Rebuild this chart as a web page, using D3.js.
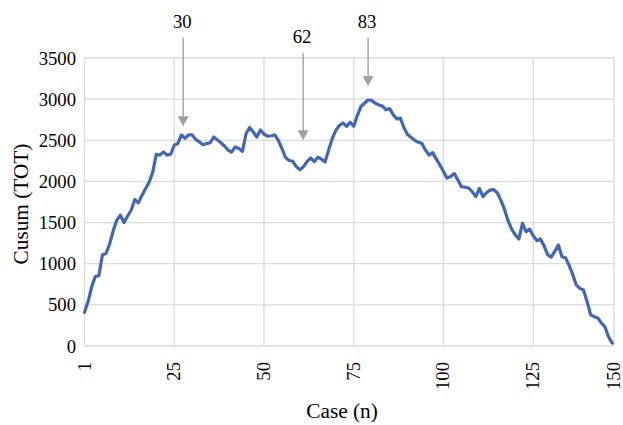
<!DOCTYPE html>
<html><head><meta charset="utf-8">
<script src="https://cdn.jsdelivr.net/npm/d3@7"></script>
<style>html,body{margin:0;padding:0;background:#fff;}svg{display:block;}</style>
</head><body>
<svg id="chart" width="623" height="425"></svg>
<script>
// ---- data ----
const cusumValues = [
  410, 540, 720, 845, 855, 1110, 1125, 1240, 1400, 1530,
  1590, 1500, 1580, 1650, 1780, 1740, 1830, 1910, 1990, 2110,
  2330, 2320, 2360, 2320, 2330, 2440, 2460, 2565, 2525, 2565,
  2565, 2510, 2480, 2445, 2460, 2470, 2540, 2505, 2470, 2430,
  2380, 2355, 2420, 2400, 2365, 2580, 2655, 2600, 2540, 2625,
  2575, 2550, 2555, 2565, 2500, 2400, 2290, 2255, 2245, 2180,
  2140, 2180, 2240, 2285, 2240, 2295, 2270, 2235, 2380, 2520,
  2620, 2680, 2710, 2670, 2720, 2670, 2800, 2910, 2950, 2990,
  2985, 2950, 2930, 2915, 2870, 2885, 2810, 2760, 2770, 2650,
  2570, 2535, 2500, 2475, 2460, 2380, 2320, 2350, 2270, 2200,
  2120, 2040, 2060, 2095, 2020, 1935, 1930, 1920, 1875, 1815,
  1915, 1815, 1865, 1895, 1900, 1860, 1770, 1660, 1520, 1420,
  1350, 1300, 1490, 1390, 1420, 1340, 1280, 1300, 1220, 1110,
  1080, 1150, 1227, 1085, 1073, 980, 870, 740, 700, 680,
  540, 380, 356, 340, 280, 230, 110, 35
];
const caseNumbers = cusumValues.map((_, i) => i + 1);

const xTickValues = [1, 26, 51, 76, 101, 126, 148.5];
const xTickLabels = ["1", "25", "50", "75", "100", "125", "150"];
const yTickValues = [0, 500, 1000, 1500, 2000, 2500, 3000, 3500];

const annotLabels = ["30", "62", "83"];
const annotCase = [28.5, 61.9, 80];
const annotTip = [2670, 2500, 3160];
const annotTop = [3745, 3560, 3745];

// ---- chart ----
const svg = d3.select("#chart");
const mLeft = 84.5, mRight = 614, mTop = 58, mBottom = 346;

const x = d3.scaleLinear().domain([1, 148.5]).range([mLeft, mRight]);
const y = d3.scaleLinear().domain([0, 3500]).range([mBottom, mTop]);

const gridColor = "#d9d9d9";
const font = "'Liberation Serif', 'Times New Roman', serif";

// horizontal gridlines
svg.append("g").selectAll("line").data(yTickValues).join("line")
  .attr("x1", mLeft).attr("x2", mRight)
  .attr("y1", d => y(d)).attr("y2", d => y(d))
  .attr("stroke", gridColor).attr("stroke-width", 1.3);

// vertical gridlines
svg.append("g").selectAll("line").data(xTickValues).join("line")
  .attr("x1", d => x(d)).attr("x2", d => x(d))
  .attr("y1", mTop).attr("y2", mBottom)
  .attr("stroke", gridColor).attr("stroke-width", 1.3);

// y tick labels
svg.append("g").selectAll("text").data(yTickValues).join("text")
  .attr("x", 76).attr("y", d => y(d))
  .attr("dy", "0.35em")
  .attr("text-anchor", "end")
  .attr("font-family", font).attr("font-size", 18.7).attr("fill", "#000")
  .text(d => d);

// x tick labels (rotated)
svg.append("g").selectAll("text").data(xTickValues).join("text")
  .attr("transform", d => `translate(${x(d) + 6},${mBottom + 16}) rotate(-90)`)
  .attr("text-anchor", "end")
  .attr("font-family", font).attr("font-size", 18.7).attr("fill", "#000")
  .text((d, i) => xTickLabels[i]);

// axis titles
svg.append("text")
  .attr("x", 342).attr("y", 418)
  .attr("text-anchor", "middle")
  .attr("font-family", font).attr("font-size", 21.3).attr("fill", "#000")
  .text("Case (n)");

svg.append("text")
  .attr("transform", `translate(28,${(mTop + mBottom) / 2 + 2}) rotate(-90)`)
  .attr("text-anchor", "middle")
  .attr("font-family", font).attr("font-size", 21.3).attr("fill", "#000")
  .text("Cusum (TOT)");

// data line
const line = d3.line().x((d, i) => x(caseNumbers[i])).y(d => y(d));
svg.append("path").datum(cusumValues)
  .attr("d", line)
  .attr("fill", "none")
  .attr("stroke", "#4267B2")
  .attr("stroke-width", 3.2)
  .attr("stroke-linejoin", "round")
  .attr("stroke-linecap", "round");

// annotations
const arrowColor = "#a0a0a0";
const ann = svg.append("g");
annotLabels.forEach((lab, i) => {
  const ax = x(annotCase[i]);
  const ty = y(annotTip[i]);
  const sy = y(annotTop[i]);
  ann.append("line")
    .attr("x1", ax).attr("x2", ax)
    .attr("y1", sy).attr("y2", ty - 8)
    .attr("stroke", arrowColor).attr("stroke-width", 1.4);
  ann.append("path")
    .attr("d", `M${ax - 5.5},${ty - 10} L${ax + 5.5},${ty - 10} L${ax},${ty} Z`)
    .attr("fill", arrowColor);
  ann.append("text")
    .attr("x", ax - 1).attr("y", sy - 10)
    .attr("text-anchor", "middle")
    .attr("font-family", font).attr("font-size", 18.7).attr("fill", "#000")
    .text(lab);
});
</script>
</body></html>
